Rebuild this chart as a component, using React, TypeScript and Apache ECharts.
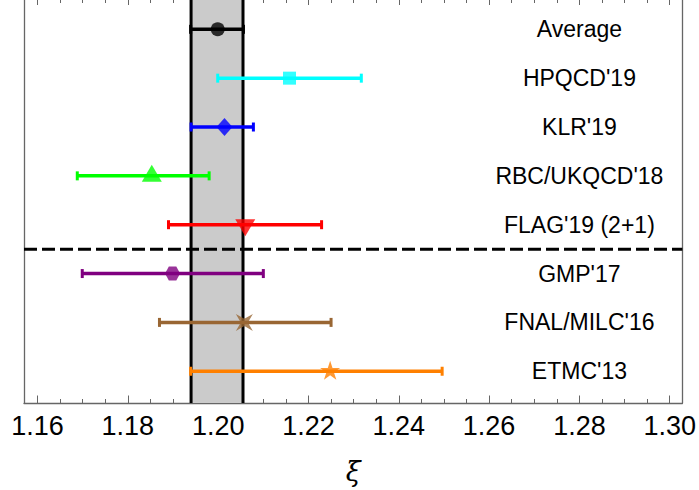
import React, { useEffect, useRef } from "react";
import * as echarts from "echarts";

const labels = ["Average", "HPQCD'19", "KLR'19", "RBC/UKQCD'18", "FLAG'19 (2+1)", "GMP'17", "FNAL/MILC'16", "ETMC'13"];
const central = [1.1999, 1.2158, 1.2014, 1.1853, 1.206, 1.1899, 1.2058, 1.2248];
const lower = [1.1939, 1.1999, 1.194, 1.1688, 1.189, 1.1699, 1.187, 1.1939];
const upper = [1.2056, 1.2317, 1.2078, 1.198, 1.2229, 1.21, 1.225, 1.2496];
const bandLow = 1.194;
const bandHigh = 1.2055;
const majorTicks = [1.16, 1.18, 1.2, 1.22, 1.24, 1.26, 1.28, 1.3];
const minorTicks = [1.165, 1.17, 1.175, 1.185, 1.19, 1.195, 1.205, 1.21, 1.215, 1.225, 1.23, 1.235, 1.245, 1.25, 1.255, 1.265, 1.27, 1.275, 1.285, 1.29, 1.295];

const colors = ["#000000", "#00ffff", "#0000ff", "#00ff00", "#ff0000", "#800080", "#996633", "#ff8000"];
const HEX = "path://M-1,0 L-0.5,-0.866 L0.5,-0.866 L1,0 L0.5,0.866 L-0.5,0.866 Z";
const STAR4 = "path://M-1,-1 L0,-0.42 L1,-1 L0.42,0 L1,1 L0,0.42 L-1,1 L-0.42,0 Z";
const STAR5 = "path://M0,-1 L0.2245,-0.309 L0.9511,-0.309 L0.3633,0.118 L0.5878,0.809 L0,0.382 L-0.5878,0.809 L-0.3633,0.118 L-0.9511,-0.309 L-0.2245,-0.309 Z";
const symbols = ["circle", "rect", "diamond", "triangle", "triangle", HEX, STAR4, STAR5];
const symbolSizes: any[] = [14, 13, [16, 18], [20, 17], [20, 17], [15, 14], [17, 17], [20, 19]];
const symbolRotates = [0, 0, 0, 0, 180, 0, 0, 0];
const symbolOffsets: any[] = [[0, 0], [0, 0], [0, 0], [0, -2.5], [0, 3], [0, 0], [0, 0], [0, -1]];

const X_MIN = 1.157;
const X_MAX = 1.3028;
const Y_MIN = 0.35;
const Y_MAX = 8.6;
const DIVIDER_Y = 3.5;
const LABEL_X = 1.28;
const FONT = "'Liberation Sans', Arial, sans-serif";

const yPos = (i: number) => labels.length - i;

export default function App() {
  const ref = useRef<HTMLDivElement>(null);
  useEffect(() => {
    if (!ref.current) return;
    const chart = echarts.init(ref.current, null, { renderer: "svg" });
    const axisGray = "#666666";
    const mkX = (position: string, ticks: number[], len: number, showLabel: boolean, showLine: boolean, extra: any = {}) => ({
      type: "value",
      position,
      min: X_MIN,
      max: X_MAX,
      axisLine: { show: showLine, lineStyle: { color: axisGray, width: 1.3 } },
      axisTick: { show: true, inside: true, length: len, customValues: ticks, lineStyle: { color: axisGray, width: 1 } },
      axisLabel: showLabel
        ? { show: true, customValues: ticks, formatter: (v: number) => v.toFixed(2), fontSize: 27, color: "#000", fontFamily: FONT, margin: 9 }
        : { show: false },
      splitLine: { show: false },
      ...extra,
    });
    const option: any = {
      animation: false,
      grid: { left: 24, right: 16, top: 0, height: 403.5 },
      xAxis: [
        mkX("bottom", majorTicks, 7.5, true, true, {
          name: "ξ",
          nameLocation: "middle",
          nameGap: 55,
          nameTextStyle: { fontSize: 27, fontStyle: "italic", fontFamily: "'DejaVu Serif', 'Liberation Serif', serif", color: "#000" },
        }),
        mkX("bottom", minorTicks, 4, false, false),
        mkX("top", majorTicks, 5, false, false),
        mkX("top", minorTicks, 3, false, false),
      ],
      yAxis: [
        { type: "value", position: "left", min: Y_MIN, max: Y_MAX, axisLine: { show: true, lineStyle: { color: axisGray, width: 1.3 } }, axisTick: { show: false }, axisLabel: { show: false }, splitLine: { show: false } },
        { type: "value", position: "right", min: Y_MIN, max: Y_MAX, axisLine: { show: true, lineStyle: { color: axisGray, width: 1.3 } }, axisTick: { show: false }, axisLabel: { show: false }, splitLine: { show: false } },
      ],
      series: [
        {
          type: "custom",
          z: 1,
          data: [[bandLow, bandHigh]],
          encode: { x: [0, 1] },
          renderItem: (params: any, api: any) => {
            const cs = params.coordSys;
            const x1 = api.coord([api.value(0), Y_MIN])[0];
            const x2 = api.coord([api.value(1), Y_MIN])[0];
            return {
              type: "group",
              children: [
                { type: "rect", shape: { x: x1, y: cs.y, width: x2 - x1, height: cs.height }, style: { fill: "#cbcbcb" } },
                { type: "line", shape: { x1, y1: cs.y, x2: x1, y2: cs.y + cs.height }, style: { stroke: "#000", lineWidth: 3 } },
                { type: "line", shape: { x1: x2, y1: cs.y, x2, y2: cs.y + cs.height }, style: { stroke: "#000", lineWidth: 3 } },
              ],
            };
          },
        },
        {
          type: "custom",
          z: 2,
          data: [[X_MIN, X_MAX, DIVIDER_Y]],
          encode: { x: [0, 1], y: 2 },
          renderItem: (params: any, api: any) => {
            const p1 = api.coord([api.value(0), api.value(2)]);
            const p2 = api.coord([api.value(1), api.value(2)]);
            return { type: "line", shape: { x1: p1[0], y1: p1[1], x2: p2[0], y2: p2[1] }, style: { stroke: "#000", lineWidth: 3, lineDash: [13, 5] } };
          },
        },
        {
          type: "custom",
          z: 3,
          data: labels.map((_, i) => [lower[i], upper[i], yPos(i)]),
          encode: { x: [0, 1], y: 2 },
          renderItem: (params: any, api: any) => {
            const i = params.dataIndex;
            const c = colors[i];
            const p1 = api.coord([api.value(0), api.value(2)]);
            const p2 = api.coord([api.value(1), api.value(2)]);
            const h = 4.5;
            const st = { stroke: c, lineWidth: 3.5 };
            return {
              type: "group",
              children: [
                { type: "line", shape: { x1: p1[0], y1: p1[1], x2: p2[0], y2: p2[1] }, style: st },
                { type: "line", shape: { x1: p1[0], y1: p1[1] - h, x2: p1[0], y2: p1[1] + h }, style: { stroke: c, lineWidth: 3 } },
                { type: "line", shape: { x1: p2[0], y1: p2[1] - h, x2: p2[0], y2: p2[1] + h }, style: { stroke: c, lineWidth: 3 } },
              ],
            };
          },
        },
        {
          type: "scatter",
          z: 4,
          data: labels.map((_, i) => ({
            value: [central[i], yPos(i)],
            symbol: symbols[i],
            symbolSize: symbolSizes[i],
            symbolRotate: symbolRotates[i],
            symbolOffset: symbolOffsets[i],
            itemStyle: { color: colors[i] },
          })),
        },
        {
          type: "custom",
          z: 5,
          data: labels.map((_, i) => [LABEL_X, yPos(i)]),
          encode: { x: 0, y: 1 },
          renderItem: (params: any, api: any) => {
            const p = api.coord([api.value(0), api.value(1)]);
            return {
              type: "text",
              x: p[0],
              y: p[1],
              style: { text: labels[params.dataIndex], fill: "#000", font: `23px ${FONT}`, textAlign: "center", textVerticalAlign: "middle" },
            };
          },
        },
      ],
    };
    chart.setOption(option);
    return () => chart.dispose();
  }, []);
  return <div ref={ref} style={{ width: 699, height: 490, position: "absolute", left: 0, top: 0 }} />;
}
